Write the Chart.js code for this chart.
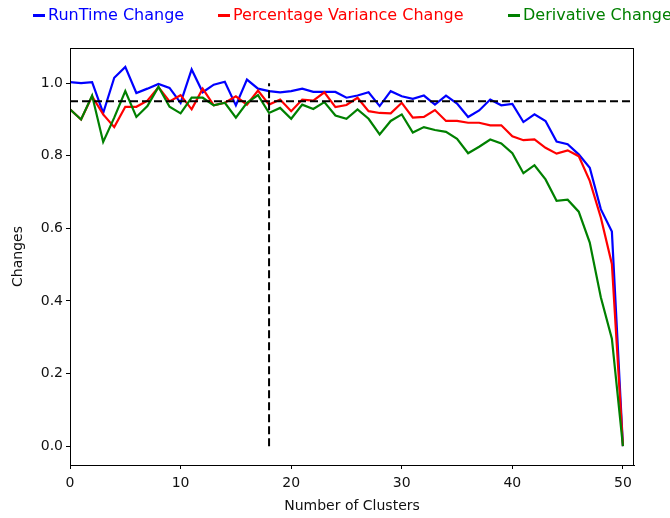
<!DOCTYPE html>
<html>
<head>
<meta charset="utf-8">
<script src="https://cdn.jsdelivr.net/npm/chart.js@4.4.1/dist/chart.umd.min.js"></script>
<style>
  body { margin: 0; background: #fff; }
  #wrap { position: relative; width: 670px; height: 518px; }
  #legend { position: absolute; top: 0; left: 0; width: 670px; height: 30px; font-family: "DejaVu Sans", sans-serif; font-size: 16px; }
  #legend .item { position: absolute; top: 5px; white-space: nowrap; }
  #legend .swatch { display: inline-block; width: 12px; height: 3px; vertical-align: middle; margin-right: 3px; }
</style>
</head>
<body>
<div id="wrap">
  <canvas id="chart" width="670" height="518"></canvas>
  <div id="legend"></div>
</div>
<script>
// Datos
const clusters = [0,1,2,3,4,5,6,7,8,9,10,11,12,13,14,15,16,17,18,19,20,21,22,23,24,25,26,27,28,29,30,31,32,33,34,35,36,37,38,39,40,41,42,43,44,45,46,47,48,49,50];
const runtimeChange = [1.003,1.0,1.003,0.918,1.015,1.045,0.973,0.985,0.998,0.987,0.946,1.038,0.975,0.996,1.004,0.939,1.01,0.985,0.978,0.975,0.978,0.985,0.976,0.976,0.976,0.96,0.966,0.975,0.937,0.978,0.964,0.957,0.966,0.941,0.966,0.944,0.907,0.925,0.955,0.939,0.943,0.893,0.914,0.896,0.839,0.832,0.804,0.767,0.653,0.591,0];
const varianceChange = [0.928,0.90,0.964,0.914,0.879,0.935,0.935,0.952,0.989,0.95,0.967,0.928,0.985,0.939,0.946,0.964,0.941,0.98,0.941,0.955,0.923,0.955,0.952,0.975,0.934,0.94,0.96,0.923,0.918,0.917,0.946,0.905,0.907,0.926,0.896,0.896,0.891,0.891,0.884,0.884,0.854,0.843,0.845,0.822,0.806,0.815,0.799,0.731,0.63,0.502,0];
const derivativeChange = [0.928,0.90,0.966,0.838,0.905,0.978,0.907,0.937,0.99,0.935,0.917,0.96,0.96,0.939,0.946,0.905,0.946,0.967,0.918,0.932,0.902,0.941,0.929,0.948,0.911,0.902,0.928,0.902,0.859,0.896,0.914,0.864,0.879,0.871,0.866,0.847,0.807,0.825,0.845,0.834,0.807,0.752,0.774,0.735,0.676,0.679,0.646,0.561,0.41,0.296,0];

const seriesNames = ['RunTime Change', 'Percentage Variance Change', 'Derivative Change'];
const seriesColors = ['#0000ff', '#ff0000', '#008000'];
const legendLeft = [33, 218, 508];

const thresholdY = 0.95;
const cutX = 18;
const xRange = [0, 51];
const yRange = [-0.052, 1.097];
const xTicks = [0, 10, 20, 30, 40, 50];
const yTicks = [0.0, 0.2, 0.4, 0.6, 0.8, 1.0];

const toPoints = (vals) => vals.map((v, i) => ({ x: clusters[i], y: v }));

// Leyenda en HTML
const legend = document.getElementById('legend');
seriesNames.forEach((name, i) => {
    legend.innerHTML += `<span class="item" style="left:${legendLeft[i]}px;color:${seriesColors[i]}">
        <span class="swatch" style="background:${seriesColors[i]}"></span>${name}</span>`;
});

// Marco completo alrededor del área
const frame = {
    id: 'frame',
    afterDraw(chart) {
        const a = chart.chartArea, ctx = chart.ctx;
        ctx.save();
        ctx.strokeStyle = '#000';
        ctx.lineWidth = 1;
        ctx.strokeRect(a.left + 0.5, a.top + 0.5, a.right - a.left - 1, a.bottom - a.top);
        ctx.restore();
    }
};

const lineDs = (label, vals, color) => ({
    label, data: toPoints(vals), borderColor: color, backgroundColor: color,
    borderWidth: 2.2, pointRadius: 0, tension: 0
});

const dashDs = (data) => ({
    data, borderColor: '#000', borderWidth: 2, borderDash: [8, 4], pointRadius: 0
});

const font = { family: 'DejaVu Sans', size: 14 };

new Chart(document.getElementById('chart'), {
    type: 'line',
    data: {
        datasets: [
            dashDs([{ x: xRange[0], y: thresholdY }, { x: xRange[1], y: thresholdY }]),
            dashDs([{ x: cutX, y: 0 }, { x: cutX, y: 1.0 }]),
            lineDs(seriesNames[2], derivativeChange, seriesColors[2]),
            lineDs(seriesNames[1], varianceChange, seriesColors[1]),
            lineDs(seriesNames[0], runtimeChange, seriesColors[0])
        ]
    },
    options: {
        responsive: false,
        animation: false,
        layout: { padding: { top: 48, right: 36, left: 0, bottom: 0 } },
        plugins: { legend: { display: false }, tooltip: { enabled: false } },
        scales: {
            x: {
                type: 'linear', min: xRange[0], max: xRange[1],
                afterBuildTicks: (s) => { s.ticks = xTicks.map(v => ({ value: v })); },
                afterFit: (s) => { s.height = 53; },
                grid: { drawOnChartArea: false, color: '#000', tickLength: 4 },
                border: { color: '#000' },
                ticks: { font, color: '#111', padding: 6, maxRotation: 0, callback: v => v },
                title: { display: true, text: 'Number of Clusters', font, color: '#111', padding: { top: 4, bottom: 3 } }
            },
            y: {
                min: yRange[0], max: yRange[1],
                afterBuildTicks: (s) => { s.ticks = yTicks.map(v => ({ value: v })); },
                afterFit: (s) => { s.width = 70; },
                grid: { drawOnChartArea: false, color: '#000', tickLength: 4 },
                border: { color: '#000' },
                ticks: { font, color: '#111', padding: 3, callback: v => v.toFixed(1) },
                title: { display: true, text: 'Changes', font, color: '#111', padding: { top: 10, bottom: 4 } }
            }
        }
    },
    plugins: [frame]
});
</script>
</body>
</html>
